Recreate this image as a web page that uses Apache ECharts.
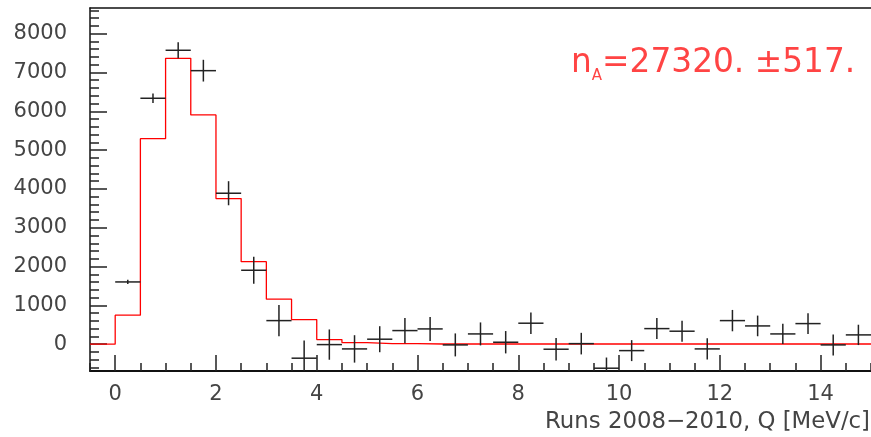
<!DOCTYPE html>
<html>
<head>
<meta charset="utf-8">
<script src="https://cdn.jsdelivr.net/npm/echarts@6/dist/echarts.min.js"></script>
<style>
html,body{margin:0;padding:0;background:#fff;}
#chart{width:871px;height:437px;}
</style>
</head>
<body>
<div id="chart"></div>
<script>
// ---- data ----
const binWidth = 0.5;
const binCenters = [0.25,0.75,1.25,1.75,2.25,2.75,3.25,3.75,4.25,4.75,5.25,5.75,6.25,6.75,7.25,7.75,8.25,8.75,9.25,9.75,10.25,10.75,11.25,11.75,12.25,12.75,13.25,13.75,14.25,14.75];
const counts = [1604,6335,7571,7046,3889,1905,608,-360,-10,-121,129,351,394,-18,265,51,541,-129,15,-618,-165,402,335,-121,608,471,265,531,-18,240];
const errors = [55,120,206,280,310,348,404,455,390,353,335,326,309,296,296,288,275,288,278,275,270,270,270,272,275,266,260,266,270,262];
const fitEdges = [-0.5,0,0.5,1,1.5,2,2.5,3,3.5,4,4.5,5,5.5,6,6.5,7,7.5,8,8.5,9,9.5,10,10.5,11,11.5,12,12.5,13,13.5,14,14.5,15];
const fitValues = [0,747,5295,7365,5905,3750,2127,1159,634,120,42,15,15,5,5,5,5,5,5,5,5,5,5,5,5,5,5,5,5,5,5];
const xMajorTicks = [0,2,4,6,8,10,12,14];
const yMajorTicks = [0,1000,2000,3000,4000,5000,6000,7000,8000];
const xRange = [-0.5, 15];
const yRange = [-690, 8660];
const xTitle = 'Runs 2008\u22122010, Q [MeV/c]';
const annotation = {label:'n', sub:'A', value:'=27320. \u00b1517.'};

// ---- derived ----
const xMinor = [];
for (let v = xRange[0]; v <= xRange[1] + 1e-9; v += 0.5) xMinor.push(+v.toFixed(2));
const yMinor = [];
for (let v = -600; v <= 8600; v += 200) yMinor.push(v);

const fitLine = fitValues.map((v, i) => [fitEdges[i], v]);
fitLine.push([fitEdges[fitEdges.length - 1], fitValues[fitValues.length - 1]]);
const points = binCenters.map((c, i) => [c, counts[i], errors[i]]);

const FONT = 'DejaVu Sans';
const LABEL_COLOR = '#444';
const chart = echarts.init(document.getElementById('chart'), null, {renderer:'canvas'});
chart.setOption({
  animation: false,
  backgroundColor: '#fff',
  grid: {left: 90, right: 0, top: 8, bottom: 66, containLabel: false},
  xAxis: [
    {type:'value', min:xRange[0], max:xRange[1], position:'bottom',
     axisLine:{show:true, onZero:false, lineStyle:{color:'#111', width:2}},
     axisTick:{show:true, inside:true, length:16, customValues:xMajorTicks, lineStyle:{color:'#222', width:1.5}},
     axisLabel:{show:true, customValues:xMajorTicks, margin:13, fontFamily:FONT, fontSize:21, color:LABEL_COLOR,
       formatter: v => String(v)},
     splitLine:{show:false}},
    {type:'value', min:xRange[0], max:xRange[1], position:'bottom',
     axisLine:{show:false, onZero:false},
     axisTick:{show:true, inside:true, length:8, customValues:xMinor, lineStyle:{color:'#222', width:1.5}},
     axisLabel:{show:false}, splitLine:{show:false}},
    {type:'value', min:xRange[0], max:xRange[1], position:'top',
     axisLine:{show:true, onZero:false, lineStyle:{color:'#111', width:1.5}},
     axisTick:{show:false}, axisLabel:{show:false}, splitLine:{show:false}}
  ],
  yAxis: [
    {type:'value', min:yRange[0], max:yRange[1], position:'left',
     axisLine:{show:true, onZero:false, lineStyle:{color:'#111', width:1.5}},
     axisTick:{show:true, inside:true, length:17, customValues:yMajorTicks, lineStyle:{color:'#222', width:1.5}},
     axisLabel:{show:true, customValues:yMajorTicks, margin:23, fontFamily:FONT, fontSize:21, color:LABEL_COLOR,
       formatter: v => String(v)},
     splitLine:{show:false}},
    {type:'value', min:yRange[0], max:yRange[1], position:'left',
     axisLine:{show:false, onZero:false},
     axisTick:{show:true, inside:true, length:9, customValues:yMinor, lineStyle:{color:'#222', width:1.5}},
     axisLabel:{show:false}, splitLine:{show:false}}
  ],
  series: [
    {type:'line', xAxisIndex:0, yAxisIndex:0, step:'end', data:fitLine, symbol:'none',
     lineStyle:{color:'#ff0000', width:1.3}, clip:true, z:2},
    {type:'custom', xAxisIndex:0, yAxisIndex:0, data:points, clip:true, z:3,
     renderItem: function(params, api){
       const x = api.value(0), y = api.value(1), e = api.value(2);
       const l = api.coord([x - binWidth/2, y]);
       const r = api.coord([x + binWidth/2, y]);
       const t = api.coord([x, y + e]);
       const b = api.coord([x, y - e]);
       const st = {stroke:'#222', lineWidth:1.5};
       return {type:'group', children:[
         {type:'line', shape:{x1:l[0], y1:l[1], x2:r[0], y2:r[1]}, style:st},
         {type:'line', shape:{x1:t[0], y1:t[1], x2:b[0], y2:b[1]}, style:st}
       ]};
     }}
  ],
  graphic: [
    {type:'text', right:1, top:411,
     style:{text:xTitle, fontFamily:FONT, fontSize:22.8, fill:LABEL_COLOR}},
    {type:'text', left:571, top:47,
     style:{text:'{n|' + annotation.label + '}{s|' + annotation.sub + '}{n|' + annotation.value + '}',
       rich:{n:{fontFamily:FONT, fontSize:32.8, fill:'#ff4444', verticalAlign:'bottom'},
             s:{fontFamily:FONT, fontSize:15, fill:'#ff4444', verticalAlign:'bottom', padding:[0,0,-4,0]}}}}
  ]
});
</script>
</body>
</html>
